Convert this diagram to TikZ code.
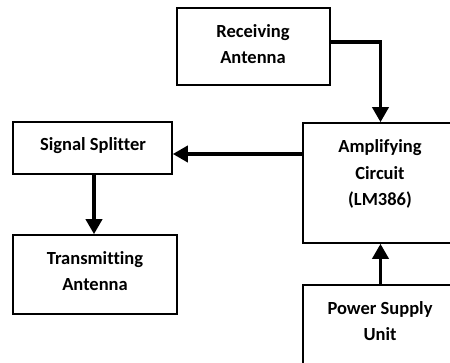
\documentclass[tikz,border=0pt]{standalone}
\usepackage{fontspec}
\setmainfont{Carlito}[Ligatures={NoCommon}]
\usetikzlibrary{arrows.meta}
\begin{document}
\begin{tikzpicture}[x=1pt,y=-1pt,
  blk/.style={draw=black,line width=1.6pt,minimum width=#1,inner sep=0pt},
  txt/.style={font=\fontsize{18.5}{26.5}\selectfont\bfseries,align=center,inner sep=0pt},
  arr/.style={line width=3.6pt,-{Triangle[length=15pt,width=16pt]}}]
\useasboundingbox (0,0) rectangle (450,362);
\begin{scope}
\clip (0,0) rectangle (450,362);
% boxes
\node[blk=153pt,minimum height=77pt] (recv) at (253.5,46.5) {};
\node[blk=154pt,minimum height=120pt] (amp) at (380,183) {};
\node[blk=159pt,minimum height=52pt] (split) at (92.5,148) {};
\node[blk=164pt,minimum height=79pt] (trans) at (95,274.5) {};
\node[blk=154pt,minimum height=100pt] (psu) at (380,335) {};
% texts
\node[txt] (trecv) at (253,44) {Receiving\\Antenna};
\node[txt] (tamp) at (380,174) {Amplifying\\Circuit\\(LM386)};
\node[txt] (tsplit) at (93,146) {Signal Splitter};
\node[txt] (ttrans) at (95,271) {Transmitting\\Antenna};
\node[txt] (tpsu) at (380,321) {Power Supply\\Unit};
% connectors
\coordinate (c1) at (380.5,42);
\draw[arr] (recv.east |- c1) -| (amp.north -| c1);
\draw[arr] (amp.west |- 0,154) -- (split.east |- 0,154);
\draw[arr] (split.south -| 94,0) -- (trans.north -| 94,0);
\draw[arr] (psu.north -| 380.5,0) -- (amp.south -| 380.5,0);
\end{scope}
\end{tikzpicture}
\end{document}
